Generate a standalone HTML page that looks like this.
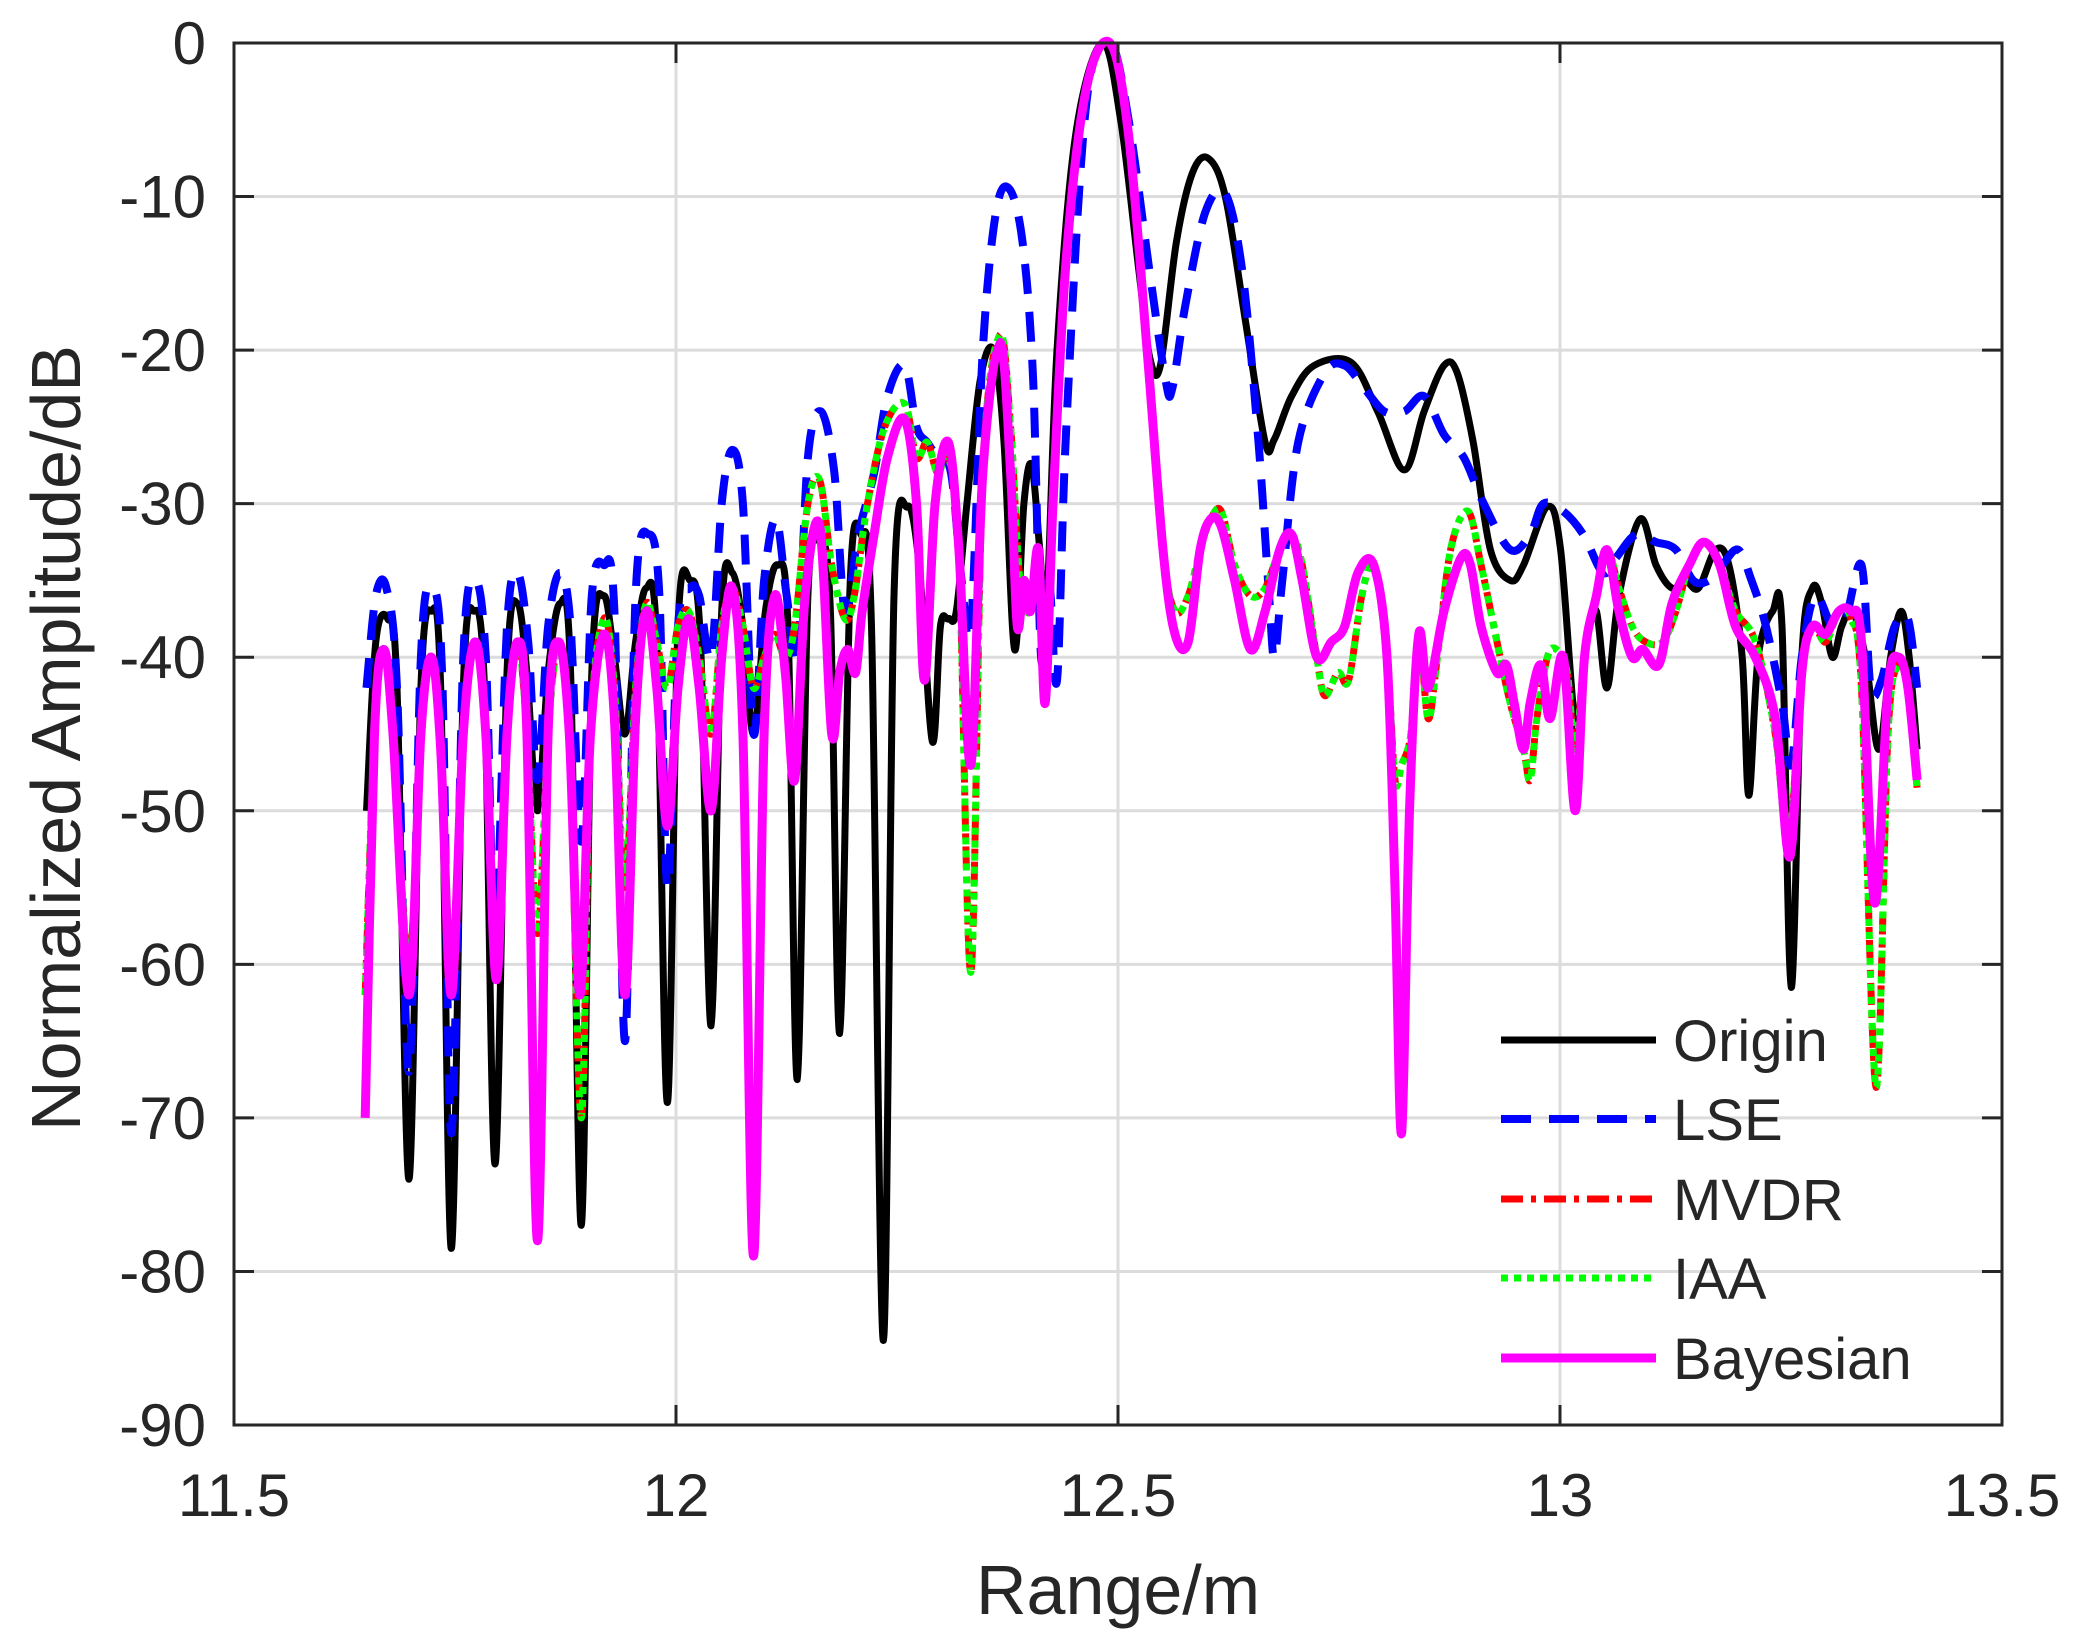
<!DOCTYPE html>
<html><head><meta charset="utf-8"><style>
html,body{margin:0;padding:0;background:#fff}
svg{display:block}
text{font-family:"Liberation Sans",Arial,sans-serif;fill:#262626}
</style></head><body>
<svg id="s" width="2076" height="1643" viewBox="0 0 2076 1643" xmlns="http://www.w3.org/2000/svg">
<rect width="2076" height="1643" fill="#fff"/>
<g id="grid" stroke="#dcdcdc" stroke-width="3"></g>
<g id="curves" fill="none" stroke-linejoin="round"></g>
<g id="axes"></g>
<text x="1118" y="1614" font-size="70" text-anchor="middle">Range/m</text>
<text transform="translate(80,738) rotate(-90)" font-size="70" text-anchor="middle">Normalized Amplitude/dB</text>
<g id="legend" font-size="58"></g>
</svg>
<script>
var L=234,R=2002,T=43,B=1425;
function X(xd){return 234+(xd-177)*1.3253;}
function Y(db){return 43-db*(1382/90);}
var ns="http://www.w3.org/2000/svg";
function el(p,tag,at,txt){var e=document.createElementNS(ns,tag);for(var k in at)e.setAttribute(k,at[k]);if(txt!==undefined)e.textContent=txt;p.appendChild(e);return e;}
var g=document.getElementById('grid'),ax=document.getElementById('axes');
var xt=[11.5,12,12.5,13,13.5];
xt.forEach(function(v){var x=L+(v-11.5)/2*(R-L);
 if(v>11.5&&v<13.5)el(g,'line',{x1:x,y1:T,x2:x,y2:B});
 el(ax,'line',{x1:x,y1:B,x2:x,y2:B-20,stroke:'#262626','stroke-width':3});
 el(ax,'line',{x1:x,y1:T,x2:x,y2:T+20,stroke:'#262626','stroke-width':3});
 el(ax,'text',{x:x,y:1516,'font-size':60,'text-anchor':'middle'},String(v));});
for(var d=0;d>=-90;d-=10){var y=Y(d);
 if(d<0&&d>-90)el(g,'line',{x1:L,y1:y,x2:R,y2:y});
 el(ax,'line',{x1:L,y1:y,x2:L+20,y2:y,stroke:'#262626','stroke-width':3});
 el(ax,'line',{x1:R,y1:y,x2:R-20,y2:y,stroke:'#262626','stroke-width':3});
 el(ax,'text',{x:206,y:y+21,'font-size':60,'text-anchor':'end'},String(d));}
el(ax,'rect',{x:L,y:T,width:R-L,height:B-T,fill:'none',stroke:'#262626','stroke-width':3});

function path(a){var p=[];for(var i=0;i<a.length;i+=2)p.push([X(a[i]),Y(a[i+1])]);
 var s='M'+p[0][0].toFixed(1)+' '+p[0][1].toFixed(1);
 for(var i=0;i<p.length-1;i++){var p0=p[i-1]||p[i],p1=p[i],p2=p[i+1],p3=p[i+2]||p2;
  var c1=[p1[0]+(p2[0]-p0[0])/6,p1[1]+(p2[1]-p0[1])/6],c2=[p2[0]-(p3[0]-p1[0])/6,p2[1]-(p3[1]-p1[1])/6];
  s+='C'+c1[0].toFixed(1)+' '+c1[1].toFixed(1)+' '+c2[0].toFixed(1)+' '+c2[1].toFixed(1)+' '+p2[0].toFixed(1)+' '+p2[1].toFixed(1);}
 return s;}
var black=[277,-50,284,-39,293,-37.5,300,-42,309,-74,318,-42,326,-37,333,-42,341,-78.5,350,-42,358,-37,366,-42,374,-73,383,-41,391,-36.5,398,-41,406,-50,414,-41,423,-36.5,431,-41,439,-77,447,-41,456,-36,464,-40,472,-45,480,-39,488,-35.5,496,-39,504,-69,512,-38,521,-35,529,-39,537,-64,545,-37,553,-34.5,561,-38,569,-45,578,-37,587,-34,595,-38,602,-67.5,610,-36,619,-32.5,627,-37,634,-64.5,642,-35,650,-32,658,-38,667,-84.5,675,-36,685,-30.2,694,-34,704,-45.5,710,-38,716,-37.5,722,-37,730,-30,740,-22,750,-20,758,-26,766,-39.5,773,-30,779,-27.5,785,-33,790,-37,798,-20,812,-6,832,0,846,-5,860,-15,868,-20.5,876,-21,888,-13,900,-8.5,912,-7.5,925,-10,940,-18,955,-26,962,-25.8,975,-23,992,-21,1020,-20.8,1040,-24,1060,-27.8,1075,-24,1090,-21,1100,-21.5,1112,-26,1125,-33,1140,-35,1150,-34,1168,-30.2,1178,-33,1190,-45,1198,-38.5,1205,-37,1213,-42,1222,-36,1238,-31,1250,-34,1262,-35.5,1272,-35,1282,-35.5,1295,-33,1305,-34,1315,-40,1320,-49,1327,-40,1338,-37,1345,-38,1352,-61.5,1360,-40,1368,-35.5,1375,-36.5,1383,-40,1390,-38,1398,-37,1408,-40,1418,-46,1427,-40,1435,-37,1441,-40,1447,-46];
var blue=[277,-42,284,-36,292,-35.5,300,-42,309,-67,318,-40,326,-35.5,334,-41,341,-71,350,-40,359,-35,367,-40,374,-58,383,-38,391,-34.5,399,-39,406,-48,414,-38,423,-34.5,431,-38,439,-52,447,-36,456,-34,464,-37,472,-65,480,-36,490,-32,498,-36,504,-55,512,-38,521,-35.5,528,-36,537,-40,545,-30,553,-26.5,561,-30,569,-45,577,-35,586,-31,594,-36,602,-40,610,-27,620,-24,630,-28,638,-37,648,-32,660,-28,670,-23,683,-21,692,-25,700,-26,708,-27,718,-28,726,-35,733,-38,742,-20,752,-11,762,-9.5,772,-13,780,-22,786,-40,792,-35,798,-41.5,805,-25,820,-4,838,0,852,-5,868,-15,880,-22,885,-22.5,895,-17,910,-11,925,-9.8,938,-15,950,-26,958,-36,962,-40,968,-35,980,-26,1000,-21.5,1015,-21,1030,-22.5,1045,-24,1060,-24,1075,-23,1090,-25.5,1105,-27,1120,-30,1140,-33,1155,-32,1165,-30,1180,-30.5,1195,-32,1210,-34.5,1220,-33.5,1235,-32,1250,-32.5,1265,-33,1278,-35,1290,-35,1300,-34,1312,-33,1322,-35,1333,-38,1345,-43,1352,-47,1360,-40,1370,-36,1383,-38,1393,-37.5,1405,-34,1412,-42,1420,-41.5,1430,-38,1440,-37.5,1447,-42];
var mag=[276,-70,283,-45,290,-39.5,297,-45,309,-62,318,-45,326,-40,333,-46,341,-62,350,-45,359,-39,367,-45,375,-61,383,-45,391,-39,398,-45,406,-78,414,-45,422,-39,430,-45,438,-62,446,-45,456,-38.5,464,-44,472,-62,480,-44,488,-37,496,-42,504,-51,512,-42,520,-37.5,528,-42,537,-50,545,-40,553,-35.5,561,-45,569,-79,577,-45,585,-36,593,-41,600,-48,608,-36,619,-31.5,628,-45,634,-41,640,-39.5,646,-41,651,-37,660,-32,670,-27,683,-24.5,692,-30,698,-41.5,706,-30,716,-26,724,-33,733,-47,742,-28,755,-19.5,763,-28,768,-38,773,-35,778,-37,784,-33,789,-43,795,-30,805,-14,820,-3,838,0,852,-6,866,-20,878,-33,887,-38.5,897,-39,906,-33,914,-31,922,-31.5,932,-35,944,-39.5,955,-37,966,-33,975,-32,983,-35,994,-40,1005,-39,1015,-38,1025,-34.5,1037,-34,1047,-40,1053,-55,1058,-71,1064,-50,1071,-38.5,1078,-42,1090,-37,1103,-33.5,1110,-34,1118,-38,1130,-41,1137,-40.5,1143,-43,1150,-46,1155,-43,1163,-40.5,1170,-44,1180,-40,1189,-50,1196,-40,1205,-36,1213,-33,1222,-37,1232,-40,1240,-39.5,1252,-40.5,1262,-36.5,1275,-34,1286,-32.5,1298,-34,1310,-38,1325,-40,1340,-44,1351,-53,1360,-41,1368,-38,1378,-38.5,1388,-37,1397,-37,1405,-39,1415,-56,1425,-42,1433,-40,1440,-42,1447,-48];
var rg=[276,-62,283,-45,290,-39.5,297,-45,309,-60,318,-45,326,-40,333,-46,341,-60,350,-45,359,-39,367,-45,375,-60,383,-45,391,-39,398,-45,406,-58,414,-45,422,-39,430,-45,439,-70,446,-45,456,-37.5,464,-42,472,-55,480,-42,488,-36.5,496,-39,504,-42,512,-38,520,-37,528,-40,537,-45,545,-38,553,-35.5,561,-38,569,-42,577,-40,585,-38.5,593,-40,600,-38,610,-30,619,-28.5,628,-34,638,-37.5,645,-36,655,-30,668,-25,683,-23.5,692,-27,700,-26,708,-28,716,-27,724,-33,733,-60.5,742,-28,755,-19,763,-25,770,-35,778,-37,784,-33,789,-43,795,-30,805,-14,820,-3,838,0,852,-6,866,-20,878,-33,887,-37,897,-36,906,-33,914,-31,922,-30.5,932,-34,944,-36,955,-35.5,966,-33,975,-32,983,-34,994,-40,1000,-42.5,1010,-41,1018,-41.5,1028,-36,1037,-34,1047,-40,1053,-48,1058,-47,1065,-45,1071,-38.5,1078,-44,1085,-40,1095,-33,1108,-30.5,1118,-34,1130,-39,1140,-43,1150,-46,1155,-48,1160,-44,1168,-40,1175,-39.5,1183,-41,1189,-46,1196,-40,1205,-36,1213,-33,1222,-35.5,1232,-38,1242,-39,1255,-39,1265,-37,1275,-34,1286,-32.5,1298,-34,1310,-37,1325,-39,1340,-45,1350,-52,1360,-41,1368,-38,1378,-39,1388,-37,1397,-37.5,1405,-42,1416,-68,1425,-45,1433,-40.5,1440,-42,1447,-48.5];
var c=document.getElementById('curves');
var styles=[
 [black,{stroke:'#000','stroke-width':7}],
 [blue,{stroke:'#0000ff','stroke-width':8,'stroke-dasharray':'30 18'}],
 [rg,{stroke:'#ff0000','stroke-width':7,'stroke-dasharray':'22 8 5 8'}],
 [rg,{stroke:'#00ff00','stroke-width':7,'stroke-dasharray':'7 6'}],
 [mag,{stroke:'#ff00ff','stroke-width':9}]];
styles.forEach(function(s){var a=s[1];a.d=path(s[0]);el(c,'path',a);});
var lg=document.getElementById('legend');
var names=['Origin','LSE','MVDR','IAA','Bayesian'],ly=[1040,1119,1199,1278,1358];
names.forEach(function(n,i){var a=Object.assign({},styles[i][1]);delete a.d;
 a.x1=1501;a.x2=1656;a.y1=ly[i];a.y2=ly[i];el(lg,'line',a);
 el(lg,'text',{x:1673,y:ly[i]+21},n);});
</script>
</body></html>
